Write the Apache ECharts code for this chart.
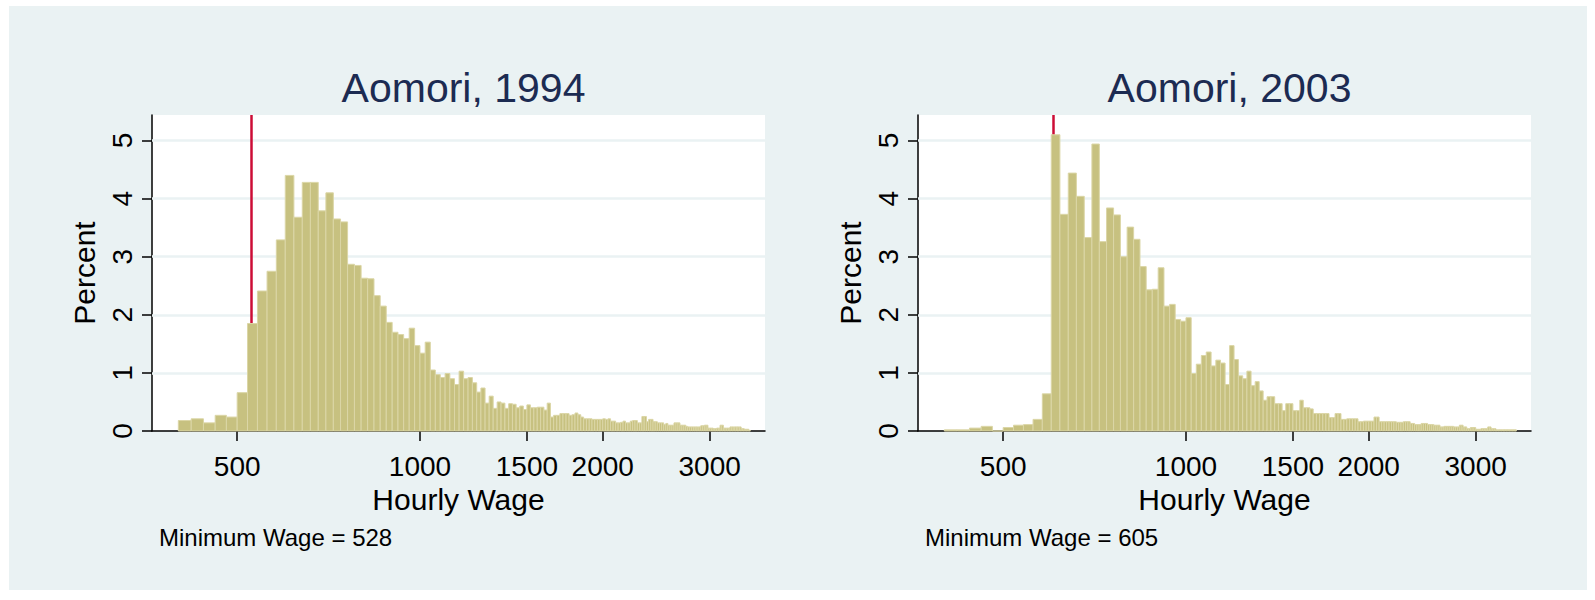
<!DOCTYPE html>
<html>
<head>
<meta charset="utf-8">
<script src="https://cdn.jsdelivr.net/npm/echarts@6/dist/echarts.min.js"></script>
<style>
  html, body { margin: 0; background: #fff; }
  #main { width: 1595px; height: 600px; }
</style>
</head>
<body>
<div id="main"></div>
<script>
// histogram bins are 20 yen wide, lower edges 400, 420, ... 3480
const binStart = 400;
const binWidth = 20;

// percent of workers per bin (5 bins = 100 yen per row)
const pct1994 = [
  0.18, 0.21, 0.14, 0.27, 0.24,   // 400
  0.66, 1.85, 2.41, 2.75, 3.29,   // 500
  4.40, 3.68, 4.28, 4.28, 3.79,   // 600
  4.10, 3.65, 3.60, 2.87, 2.85,   // 700
  2.63, 2.62, 2.33, 2.15, 1.87,   // 800
  1.70, 1.66, 1.59, 1.77, 1.47,   // 900
  1.34, 1.53, 1.05, 0.97, 0.92,   // 1000
  0.99, 0.90, 0.80, 1.03, 0.90,   // 1100
  0.92, 0.83, 0.67, 0.74, 0.48,   // 1200
  0.60, 0.39, 0.50, 0.48, 0.39,   // 1300
  0.47, 0.46, 0.40, 0.43, 0.37,   // 1400
  0.45, 0.40, 0.40, 0.41, 0.41,   // 1500
  0.36, 0.48, 0.24, 0.27, 0.27,   // 1600
  0.30, 0.30, 0.30, 0.27, 0.28,   // 1700
  0.31, 0.28, 0.24, 0.21, 0.21,   // 1800
  0.21, 0.20, 0.20, 0.20, 0.20,   // 1900
  0.21, 0.20, 0.21, 0.17, 0.17,   // 2000
  0.14, 0.14, 0.15, 0.17, 0.14,   // 2100
  0.14, 0.17, 0.18, 0.18, 0.14,   // 2200
  0.14, 0.25, 0.25, 0.16, 0.20,   // 2300
  0.20, 0.16, 0.16, 0.14, 0.14,   // 2400
  0.14, 0.11, 0.13, 0.10, 0.10,   // 2500
  0.10, 0.14, 0.14, 0.14, 0.10,   // 2600
  0.10, 0.10, 0.08, 0.07, 0.07,   // 2700
  0.07, 0.07, 0.07, 0.07, 0.07,   // 2800
  0.09, 0.09, 0.10, 0.10, 0.05,   // 2900
  0.05, 0.05, 0.04, 0.04, 0.05,   // 3000
  0.05, 0.10, 0.10, 0.05, 0.05,   // 3100
  0.05, 0.05, 0.07, 0.07, 0.07,   // 3200
  0.07, 0.07, 0.07, 0.07, 0.04,   // 3300
  0.04, 0.03, 0.03, 0.03, 0.01    // 3400
];

const pct2003 = [
  0.02, 0.02, 0.05, 0.08, 0.00,   // 400
  0.06, 0.10, 0.11, 0.20, 0.64,   // 500
  5.10, 3.73, 4.44, 4.04, 3.33,   // 600
  4.94, 3.26, 3.84, 3.72, 3.00,   // 700
  3.51, 3.30, 2.83, 2.43, 2.44,   // 800
  2.81, 2.15, 2.18, 1.92, 1.89,   // 900
  1.95, 0.99, 1.15, 1.30, 1.36,   // 1000
  1.12, 1.22, 1.17, 0.80, 1.47,   // 1100
  1.23, 0.95, 0.90, 1.03, 0.78,   // 1200
  0.85, 0.69, 0.53, 0.59, 0.59,   // 1300
  0.47, 0.47, 0.35, 0.47, 0.47,   // 1400
  0.35, 0.35, 0.53, 0.40, 0.40,   // 1500
  0.38, 0.30, 0.30, 0.30, 0.30,   // 1600
  0.30, 0.23, 0.23, 0.30, 0.30,   // 1700
  0.20, 0.20, 0.21, 0.21, 0.21,   // 1800
  0.21, 0.16, 0.16, 0.17, 0.17,   // 1900
  0.17, 0.17, 0.24, 0.24, 0.16,   // 2000
  0.16, 0.16, 0.16, 0.16, 0.16,   // 2100
  0.16, 0.15, 0.15, 0.15, 0.16,   // 2200
  0.16, 0.16, 0.13, 0.13, 0.11,   // 2300
  0.11, 0.11, 0.13, 0.13, 0.13,   // 2400
  0.11, 0.11, 0.11, 0.10, 0.10,   // 2500
  0.10, 0.07, 0.07, 0.08, 0.08,   // 2600
  0.08, 0.08, 0.08, 0.07, 0.07,   // 2700
  0.07, 0.10, 0.10, 0.07, 0.07,   // 2800
  0.04, 0.04, 0.06, 0.06, 0.06,   // 2900
  0.03, 0.03, 0.03, 0.04, 0.04,   // 3000
  0.04, 0.04, 0.07, 0.07, 0.04,   // 3100
  0.04, 0.04, 0.02, 0.02, 0.02,   // 3200
  0.02, 0.02, 0.02, 0.02, 0.02,   // 3300
  0.02, 0.02, 0.02, 0.02, 0.02    // 3400
];

const minWage1994 = 528;
const minWage2003 = 605;

const xTicks = [500, 1000, 1500, 2000, 3000];
const yTicks = [0, 1, 2, 3, 4, 5];
const yGrid = [1, 2, 3, 4, 5];

// ---- styling ----
const FONT = 'Liberation Sans, Arial, sans-serif';
const BG = '#eaf2f3';
const BAR_FILL = '#c7c180';
const BAR_EDGE = '#dbd6a6';
const RED = '#cc0c36';

function toRows(pct) {
  return pct.map((v, i) => [binStart + i * binWidth, binStart + (i + 1) * binWidth, v]);
}

const panels = [
  { title: 'Aomori, 1994', rows: toRows(pct1994), mw: minWage1994, left: 152 },
  { title: 'Aomori, 2003', rows: toRows(pct2003), mw: minWage2003, left: 918 }
];

const PW = 613, PTOP = 115, PH = 316;

let myChart = echarts.init(document.getElementById('main'), null, { renderer: 'svg' });

const option = {
  backgroundColor: '#fff',
  animation: false,
  textStyle: { fontFamily: FONT },
  graphic: [{
    type: 'rect', z: -10, silent: true,
    shape: { x: 9, y: 6, width: 1578, height: 584 },
    style: { fill: BG }
  }],
  title: [],
  grid: [],
  xAxis: [],
  yAxis: [],
  series: []
};

panels.forEach((p, i) => {
  option.title.push({
    text: p.title, left: p.left + PW / 2, top: 62, textAlign: 'center',
    textStyle: { fontFamily: FONT, fontSize: 41, fontWeight: 'normal', color: '#1c2b52' }
  });
  option.title.push({
    text: 'Minimum Wage = ' + p.mw, left: p.left + 2, top: 520,
    textStyle: { fontFamily: FONT, fontSize: 24, fontWeight: 'normal', color: '#000' }
  });
  option.grid.push({
    left: p.left, top: PTOP, width: PW, height: PH,
    show: true, backgroundColor: '#fff', borderWidth: 0
  });
  option.xAxis.push({
    type: 'log', logBase: 10, gridIndex: i, min: 362, max: 3700,
    name: 'Hourly Wage', nameLocation: 'middle', nameGap: 50,
    nameTextStyle: { fontFamily: FONT, fontSize: 30, color: '#000' },
    axisLine: { lineStyle: { color: '#000', width: 1.5 } },
    axisTick: { customValues: xTicks, length: 10, lineStyle: { color: '#000', width: 1.5 } },
    axisLabel: {
      customValues: xTicks, margin: 21, fontSize: 28, color: '#000', fontFamily: FONT,
      formatter: v => String(Math.round(v))
    },
    splitLine: { show: false },
    minorTick: { show: false }
  });
  option.yAxis.push({
    type: 'value', gridIndex: i, min: 0, max: 5.44,
    name: 'Percent', nameLocation: 'middle', nameGap: 53, nameRotate: 90,
    nameTextStyle: { fontFamily: FONT, fontSize: 30, color: '#000' },
    axisLine: { show: true, lineStyle: { color: '#000', width: 1.5 } },
    axisTick: { show: true, customValues: yTicks, length: 10, lineStyle: { color: '#000', width: 1.5 } },
    axisLabel: { customValues: yTicks, rotate: 90, margin: 16, fontSize: 28, color: '#000', fontFamily: FONT },
    splitLine: { show: false }
  });
  // gridlines and the minimum-wage line sit behind the bars
  option.series.push({
    type: 'line', xAxisIndex: i, yAxisIndex: i, data: [], z: 1,
    markLine: {
      z: 1, silent: true, symbol: ['none', 'none'], label: { show: false },
      data: yGrid.map(v => ({ yAxis: v, lineStyle: { color: BG, width: 2.5, type: 'solid' } }))
        .concat([{ xAxis: p.mw, lineStyle: { color: RED, width: 2.5, type: 'solid' } }])
    }
  });
  option.series.push({
    type: 'custom', xAxisIndex: i, yAxisIndex: i, z: 3,
    data: p.rows,
    encode: { x: [0, 1], y: 2 },
    renderItem: function (params, api) {
      const a = api.coord([api.value(0), api.value(2)]);
      const b = api.coord([api.value(1), 0]);
      return {
        type: 'rect',
        shape: { x: a[0], y: a[1], width: b[0] - a[0], height: b[1] - a[1] },
        style: { fill: BAR_FILL, stroke: BAR_EDGE, lineWidth: 1 }
      };
    }
  });
});

myChart.setOption(option);
</script>
</body>
</html>
